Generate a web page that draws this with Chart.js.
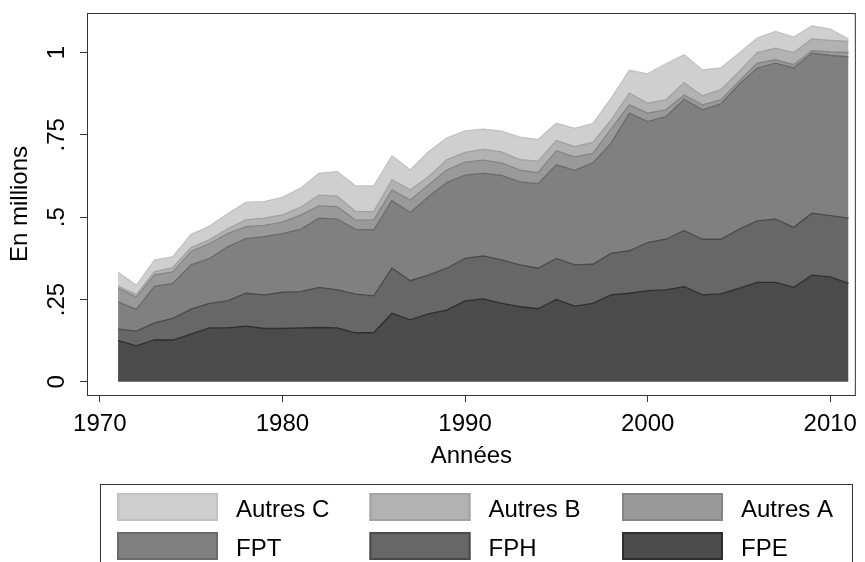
<!DOCTYPE html>
<html>
<head>
<meta charset="utf-8">
<script src="https://cdn.jsdelivr.net/npm/chart.js@4.4.1/dist/chart.umd.min.js"></script>
<style>
  html, body { margin: 0; padding: 0; background: #fff; }
  canvas { display: block; }
</style>
</head>
<body>
<canvas id="chart" width="865" height="562"></canvas>
<script>
// Effectifs par année (en millions), une série par couche, du bas vers le haut
const years = [1971, 1972, 1973, 1974, 1975, 1976, 1977, 1978, 1979, 1980,
  1981, 1982, 1983, 1984, 1985, 1986, 1987, 1988, 1989, 1990,
  1991, 1992, 1993, 1994, 1995, 1996, 1997, 1998, 1999, 2000,
  2001, 2002, 2003, 2004, 2005, 2006, 2007, 2008, 2009, 2010, 2011];

const fpe = [0.126, 0.109, 0.127, 0.127, 0.145, 0.164, 0.164, 0.169, 0.162, 0.162,
  0.164, 0.165, 0.164, 0.149, 0.149, 0.208, 0.188, 0.206, 0.218, 0.246,
  0.252, 0.238, 0.228, 0.222, 0.250, 0.230, 0.238, 0.264, 0.269, 0.277,
  0.279, 0.289, 0.264, 0.267, 0.284, 0.302, 0.302, 0.287, 0.324, 0.319, 0.299];

const fph = [0.034, 0.045, 0.052, 0.066, 0.076, 0.074, 0.082, 0.100, 0.102, 0.110,
  0.110, 0.122, 0.115, 0.117, 0.112, 0.137, 0.119, 0.118, 0.127, 0.129,
  0.130, 0.132, 0.127, 0.123, 0.125, 0.125, 0.119, 0.126, 0.129, 0.146,
  0.154, 0.170, 0.169, 0.166, 0.179, 0.187, 0.192, 0.182, 0.188, 0.186, 0.198];

const fpt = [0.083, 0.066, 0.111, 0.106, 0.134, 0.136, 0.164, 0.166, 0.177, 0.178,
  0.189, 0.210, 0.215, 0.197, 0.200, 0.205, 0.207, 0.238, 0.260, 0.253,
  0.251, 0.257, 0.252, 0.257, 0.284, 0.287, 0.308, 0.335, 0.418, 0.367,
  0.372, 0.399, 0.393, 0.411, 0.439, 0.464, 0.474, 0.484, 0.486, 0.486, 0.490];

const autresA = [0.042, 0.037, 0.035, 0.035, 0.041, 0.046, 0.040, 0.036, 0.034, 0.035,
  0.043, 0.037, 0.038, 0.028, 0.030, 0.033, 0.038, 0.036, 0.038, 0.039,
  0.040, 0.038, 0.036, 0.033, 0.043, 0.041, 0.029, 0.043, 0.025, 0.026,
  0.021, 0.013, 0.015, 0.012, 0.010, 0.015, 0.010, 0.010, 0.008, 0.011, 0.013];

const autresB = [0.006, 0.008, 0.010, 0.013, 0.012, 0.011, 0.015, 0.021, 0.022, 0.022,
  0.024, 0.033, 0.032, 0.026, 0.026, 0.030, 0.031, 0.025, 0.031, 0.030,
  0.033, 0.033, 0.032, 0.035, 0.031, 0.031, 0.033, 0.027, 0.036, 0.030,
  0.030, 0.038, 0.027, 0.031, 0.030, 0.032, 0.035, 0.037, 0.035, 0.035, 0.034];

const autresC = [0.042, 0.028, 0.035, 0.033, 0.040, 0.041, 0.045, 0.053, 0.050, 0.053,
  0.058, 0.066, 0.074, 0.078, 0.078, 0.073, 0.060, 0.076, 0.066, 0.065,
  0.061, 0.063, 0.068, 0.066, 0.052, 0.056, 0.057, 0.066, 0.069, 0.089,
  0.110, 0.084, 0.079, 0.066, 0.056, 0.044, 0.051, 0.047, 0.040, 0.034, 0.007];

const seriesNames = ['FPE', 'FPH', 'FPT', 'Autres A', 'Autres B', 'Autres C'];
const fillColors = ['#4b4b4b', '#676767', '#808080', '#999999', '#b2b2b2', '#cfcfcf'];
const lineColors = ['#2e2e2e', '#4a4a4a', '#6a6a6a', '#858585', '#a2a2a2', '#c2c2c2'];

const xTicks = [1970, 1980, 1990, 2000, 2010];
const yTicks = [0, 0.25, 0.5, 0.75, 1];
const yTickLabels = ['0', '.25', '.5', '.75', '1'];

const FONT = "'Liberation Sans', Arial, sans-serif";
const FRAME = '#333333';

const values = [fpe, fph, fpt, autresA, autresB, autresC];
const datasets = values.map((serie, i) => ({
  label: seriesNames[i],
  data: serie.map((v, k) => ({ x: years[k], y: v })),
  backgroundColor: fillColors[i],
  borderColor: lineColors[i],
  borderWidth: 1.3,
  pointRadius: 0,
  tension: 0,
  fill: i === 0 ? 'origin' : '-1'
}));

// cadre du graphique + étiquettes verticales de l'axe y
const framePlugin = {
  id: 'frame',
  afterDraw(chart) {
    const { ctx, chartArea: a, scales } = chart;
    ctx.save();
    ctx.strokeStyle = FRAME;
    ctx.lineWidth = 1;
    ctx.strokeRect(a.left + 0.5, a.top + 0.5, a.right - a.left - 1, a.bottom - a.top);

    ctx.fillStyle = '#000';
    ctx.font = '24px ' + FONT;
    ctx.textAlign = 'center';
    ctx.textBaseline = 'alphabetic';
    yTicks.forEach((v, i) => {
      const y = scales.y.getPixelForValue(v);
      ctx.save();
      ctx.translate(64, y);
      ctx.rotate(-Math.PI / 2);
      ctx.fillText(yTickLabels[i], 0, 0);
      ctx.restore();
    });
    ctx.restore();
  }
};

// légende en grille 3 x 2 comme dans Stata
const legendPlugin = {
  id: 'gridLegend',
  afterDraw(chart) {
    const ctx = chart.ctx;
    ctx.save();
    ctx.strokeStyle = FRAME;
    ctx.lineWidth = 1;
    ctx.strokeRect(100.5, 484.5, 752, 100);
    const items = chart.data.datasets.slice().reverse();
    ctx.font = '24px ' + FONT;
    ctx.textAlign = 'left';
    ctx.textBaseline = 'alphabetic';
    items.forEach((ds, i) => {
      const col = i % 3;
      const row = Math.floor(i / 3);
      const x = 117 + col * 252.5;
      const y = 493 + row * 39;
      ctx.fillStyle = ds.backgroundColor;
      ctx.fillRect(x, y, 101, 28);
      ctx.strokeStyle = ds.borderColor;
      ctx.lineWidth = 2;
      ctx.strokeRect(x + 1, y + 1, 99, 26);
      ctx.fillStyle = '#000';
      ctx.fillText(ds.label, x + 119, y + 24);
    });
    ctx.restore();
  }
};

new Chart(document.getElementById('chart'), {
  type: 'line',
  data: { datasets },
  options: {
    responsive: false,
    animation: false,
    devicePixelRatio: 1,
    layout: { padding: { left: 0, right: 1, top: 13, bottom: 87 } },
    plugins: { legend: { display: false }, tooltip: { enabled: false } },
    scales: {
      x: {
        type: 'linear',
        min: 1969.3,
        max: 2011.4,
        afterBuildTicks: (scale) => { scale.ticks = xTicks.map(v => ({ value: v })); },
        afterFit: (scale) => { scale.height = 80; },
        border: { display: false },
        grid: { drawOnChartArea: false, drawTicks: true, tickLength: 7, color: FRAME },
        ticks: {
          color: '#000',
          padding: 8,
          maxRotation: 0,
          font: { family: FONT, size: 24 },
          callback: (v) => String(v)
        },
        title: {
          display: true,
          text: 'Années',
          color: '#000',
          font: { family: FONT, size: 24 },
          padding: { top: 0, bottom: 4 }
        }
      },
      y: {
        stacked: true,
        min: -0.04,
        max: 1.12,
        afterBuildTicks: (scale) => { scale.ticks = yTicks.map(v => ({ value: v })); },
        afterFit: (scale) => { scale.width = 87; },
        border: { display: false },
        grid: { drawOnChartArea: false, drawTicks: true, tickLength: 7, color: FRAME },
        ticks: { display: false },
        title: {
          display: true,
          text: 'En millions',
          color: '#000',
          font: { family: FONT, size: 24 },
          padding: { top: 6, bottom: 0 }
        }
      }
    }
  },
  plugins: [framePlugin, legendPlugin]
});
</script>
</body>
</html>
